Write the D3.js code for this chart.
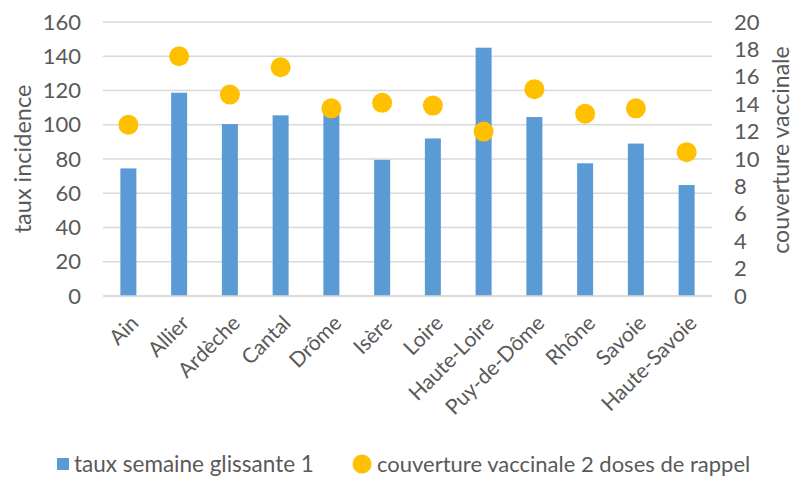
<!DOCTYPE html>
<html>
<head>
<meta charset="utf-8">
<script src="https://cdn.jsdelivr.net/npm/d3@7"></script>
<style>
  body { margin: 0; background: #fff; }
  svg { font-family: Lato, "Open Sans", sans-serif; }
</style>
</head>
<body>
<div id="chart"></div>
<script>
// départements, taux d'incidence et couverture vaccinale
const departements = ["Ain", "Allier", "Ardèche", "Cantal", "Drôme", "Isère", "Loire",
  "Haute-Loire", "Puy-de-Dôme", "Rhône", "Savoie", "Haute-Savoie"];
const tauxIncidence = [74.5, 118.7, 100.4, 105.5, 108, 79.5, 92, 145, 104.5, 77.5, 89, 64.8];
const couverture = [12.5, 17.5, 14.7, 16.7, 13.7, 14.1, 13.9, 12.0, 15.1, 13.3, 13.7, 10.5];
const leftTicks = [0, 20, 40, 60, 80, 100, 120, 140, 160];
const rightTicks = [0, 2, 4, 6, 8, 10, 12, 14, 16, 18, 20];
const seriesNames = ["taux semaine glissante 1", "couverture vaccinale 2 doses de rappel"];

const width = 809, height = 480;
const margin = {top: 22, right: 97, bottom: 184, left: 103};
const textColor = "#595959";

const svg = d3.select("#chart").append("svg")
    .attr("width", width)
    .attr("height", height);

const x = d3.scaleBand()
    .domain(departements)
    .range([margin.left, width - margin.right]);

const y = d3.scaleLinear()
    .domain([0, 160])
    .range([height - margin.bottom, margin.top]);

const y2 = d3.scaleLinear()
    .domain([0, 20])
    .range([height - margin.bottom, margin.top]);

// gridlines
svg.append("g")
  .selectAll("line")
  .data(leftTicks)
  .join("line")
    .attr("x1", margin.left)
    .attr("x2", width - margin.right)
    .attr("y1", d => y(d))
    .attr("y2", d => y(d))
    .attr("stroke", "#d9d9d9")
    .attr("stroke-width", 1.3);

// left axis
svg.append("g")
    .attr("transform", `translate(${margin.left - 22},0)`)
    .call(d3.axisLeft(y).tickValues(leftTicks).tickSize(0).tickPadding(0))
    .call(g => g.select(".domain").remove())
    .call(g => g.selectAll("text")
        .attr("fill", textColor)
        .attr("font-size", 22)
        .attr("font-family", "Lato, sans-serif"));

// right axis
svg.append("g")
    .attr("transform", `translate(${width - margin.right + 22},0)`)
    .call(d3.axisRight(y2).tickValues(rightTicks).tickSize(0).tickPadding(0))
    .call(g => g.select(".domain").remove())
    .call(g => g.selectAll("text")
        .attr("fill", textColor)
        .attr("font-size", 22)
        .attr("font-family", "Lato, sans-serif"));

// bars
const barW = 16;
svg.append("g")
  .selectAll("rect")
  .data(departements)
  .join("rect")
    .attr("x", (d, i) => x(d) + x.bandwidth() / 2 - barW / 2)
    .attr("y", (d, i) => y(tauxIncidence[i]))
    .attr("width", barW)
    .attr("height", (d, i) => y(0) - y(tauxIncidence[i]))
    .attr("fill", "#5b9bd5");

// x axis baseline
svg.append("line")
    .attr("x1", margin.left)
    .attr("x2", width - margin.right)
    .attr("y1", y(0))
    .attr("y2", y(0))
    .attr("stroke", "#d9d9d9")
    .attr("stroke-width", 1.3);

// dots
svg.append("g")
  .selectAll("circle")
  .data(departements)
  .join("circle")
    .attr("cx", d => x(d) + x.bandwidth() / 2)
    .attr("cy", (d, i) => y2(couverture[i]))
    .attr("r", 10)
    .attr("fill", "#ffc000");

// category labels
svg.append("g")
  .selectAll("text")
  .data(departements)
  .join("text")
    .attr("transform", d => `translate(${x(d) + x.bandwidth() / 2 + 1},${y(0) + 18}) rotate(-45)`)
    .attr("text-anchor", "end")
    .attr("dy", "0.7em")
    .attr("fill", textColor)
    .attr("font-size", 21)
    .text(d => d);

// axis titles
svg.append("text")
    .attr("transform", `translate(31,${(y(0) + y(160)) / 2}) rotate(-90)`)
    .attr("text-anchor", "middle")
    .attr("fill", textColor)
    .attr("font-size", 23.5)
    .text("taux incidence");

svg.append("text")
    .attr("transform", `translate(789,150) rotate(-90)`)
    .attr("text-anchor", "middle")
    .attr("fill", textColor)
    .attr("font-size", 23)
    .text("couverture vaccinale");

// legend
const legend = svg.append("g").attr("transform", "translate(0,464)");
legend.append("rect")
    .attr("x", 57).attr("y", -6)
    .attr("width", 12).attr("height", 12)
    .attr("fill", "#5b9bd5");
legend.append("text")
    .attr("x", 74).attr("dy", "0.35em")
    .attr("fill", textColor).attr("font-size", 22.5)
    .text(seriesNames[0]);
legend.append("circle")
    .attr("cx", 362).attr("r", 9.5)
    .attr("fill", "#ffc000");
legend.append("text")
    .attr("x", 377).attr("dy", "0.35em")
    .attr("fill", textColor).attr("font-size", 22)
    .text(seriesNames[1]);
</script>
</body>
</html>
